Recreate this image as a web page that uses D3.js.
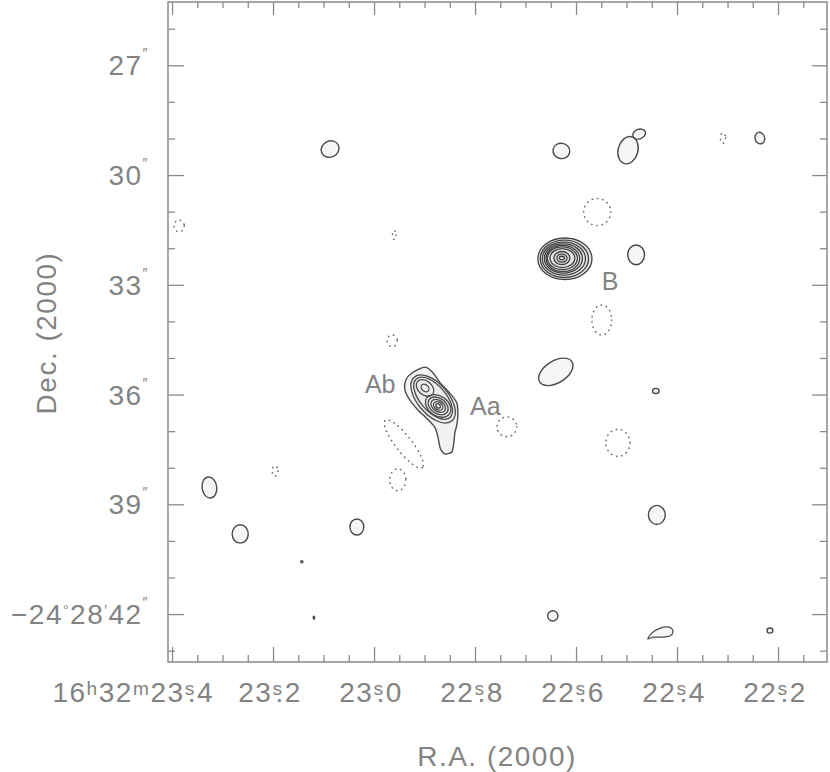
<!DOCTYPE html>
<html>
<head>
<meta charset="utf-8">
<script src="https://cdn.jsdelivr.net/npm/d3@7"></script>
<style>
  body { margin: 0; background: #fff; }
  svg text { font-family: "Liberation Sans", "DejaVu Sans", Arial, sans-serif; fill: #838383; }
</style>
</head>
<body>
<script>
// ---- axis ticks and labels ----
const raMajor = [23.4, 23.2, 23.0, 22.8, 22.6, 22.4, 22.2];
const raLabels = ["16ʰ32ᵐ23ˢ.4", "23ˢ.2", "23ˢ.0", "22ˢ.8", "22ˢ.6", "22ˢ.4", "22ˢ.2"];
const decMajor = [27, 30, 33, 36, 39, 42];
const decLabels = ["27^″", "30^″", "33^″", "36^″", "39^″", "−24^°28^′42^″"];

// ---- single contours: ra (s), dec (″ below -24°28'), a/b semi-axes (″), pa (deg on screen) ----
const solidBlobs = [
  { ra: 23.087, dec: 29.29, a: 0.25, b: 0.22, pa: -25 },
  { ra: 22.629, dec: 29.34, a: 0.23, b: 0.21, pa: 10 },
  { ra: 22.497, dec: 29.32, a: 0.27, b: 0.38, pa: 15 },
  { ra: 22.475, dec: 28.88, a: 0.18, b: 0.13, pa: -20 },
  { ra: 22.236, dec: 28.99, a: 0.13, b: 0.16, pa: -15 },
  { ra: 22.481, dec: 32.18, a: 0.23, b: 0.27, pa: 0 },
  { ra: 22.640, dec: 35.38, a: 0.52, b: 0.30, pa: -32 },
  { ra: 22.442, dec: 35.90, a: 0.09, b: 0.07, pa: 0 },
  { ra: 23.326, dec: 38.54, a: 0.20, b: 0.29, pa: -8 },
  { ra: 23.265, dec: 39.81, a: 0.22, b: 0.25, pa: 0 },
  { ra: 23.034, dec: 39.62, a: 0.19, b: 0.22, pa: 0 },
  { ra: 22.440, dec: 39.29, a: 0.23, b: 0.26, pa: 0 },
  { ra: 23.143, dec: 40.57, a: 0.03, b: 0.03, pa: 0 },
  { ra: 23.119, dec: 42.10, a: 0.02, b: 0.04, pa: 0 },
  { ra: 22.646, dec: 42.05, a: 0.14, b: 0.14, pa: 0 },
  { ra: 22.216, dec: 42.45, a: 0.08, b: 0.07, pa: 0 }
];

// negative contours (dotted)
const dottedBlobs = [
  { ra: 22.309, dec: 28.99, a: 0.07, b: 0.14, pa: 0 },
  { ra: 23.386, dec: 31.39, a: 0.14, b: 0.16, pa: 0 },
  { ra: 22.558, dec: 31.01, a: 0.37, b: 0.37, pa: 0 },
  { ra: 22.960, dec: 31.64, a: 0.05, b: 0.12, pa: 0 },
  { ra: 22.549, dec: 33.96, a: 0.27, b: 0.41, pa: 0 },
  { ra: 22.964, dec: 34.53, a: 0.14, b: 0.16, pa: 0 },
  { ra: 22.737, dec: 36.88, a: 0.27, b: 0.27, pa: 0 },
  { ra: 22.941, dec: 37.35, a: 0.82, b: 0.22, pa: 52 },
  { ra: 22.953, dec: 38.33, a: 0.22, b: 0.30, pa: 0 },
  { ra: 22.517, dec: 37.32, a: 0.33, b: 0.37, pa: 0 },
  { ra: 23.196, dec: 38.09, a: 0.08, b: 0.14, pa: 0 }
];

// source B, nested levels
const sourceB = [
  { ra: 22.622, dec: 32.29, a: 0.74, b: 0.57 },
  { ra: 22.623, dec: 32.29, a: 0.66, b: 0.51 },
  { ra: 22.624, dec: 32.285, a: 0.59, b: 0.45 },
  { ra: 22.625, dec: 32.28, a: 0.52, b: 0.40 },
  { ra: 22.626, dec: 32.28, a: 0.46, b: 0.36 },
  { ra: 22.627, dec: 32.275, a: 0.41, b: 0.31 },
  { ra: 22.627, dec: 32.27, a: 0.34, b: 0.26 },
  { ra: 22.628, dec: 32.27, a: 0.22, b: 0.18 },
  { ra: 22.628, dec: 32.27, a: 0.14, b: 0.11 },
  { ra: 22.628, dec: 32.27, a: 0.07, b: 0.05 }
];

// source A (Aa + Ab), inner levels
const sourceA = [
  { ra: 22.883, dec: 36.12, a: 0.79, b: 0.42, pa: 49 },
  { ra: 22.883, dec: 36.10, a: 0.70, b: 0.35, pa: 49 },
  { ra: 22.899, dec: 35.82, a: 0.27, b: 0.19, pa: 40 },
  { ra: 22.899, dec: 35.82, a: 0.12, b: 0.09, pa: 40 },
  { ra: 22.873, dec: 36.31, a: 0.38, b: 0.27, pa: 35 },
  { ra: 22.873, dec: 36.31, a: 0.30, b: 0.21, pa: 35 },
  { ra: 22.873, dec: 36.31, a: 0.22, b: 0.15, pa: 35 },
  { ra: 22.873, dec: 36.31, a: 0.14, b: 0.10, pa: 35 },
  { ra: 22.873, dec: 36.31, a: 0.07, b: 0.05, pa: 35 }
];

// lowest contour of source A, with its southern tail
const outlineA = [
  [22.925, 35.41], [22.899, 35.25], [22.883, 35.41], [22.869, 35.68], [22.850, 35.96],
  [22.836, 36.23], [22.834, 36.56], [22.836, 36.83], [22.840, 37.05], [22.842, 37.32],
  [22.846, 37.57], [22.860, 37.62], [22.869, 37.46], [22.873, 37.19], [22.879, 36.91],
  [22.893, 36.69], [22.913, 36.42], [22.929, 36.15], [22.939, 35.87], [22.937, 35.60]
];

// small teardrop contour near the bottom
const teardrop = [
  [22.458, 42.68], [22.450, 42.52], [22.438, 42.41], [22.424, 42.35], [22.412, 42.38],
  [22.408, 42.49], [22.414, 42.60], [22.430, 42.63], [22.446, 42.63]
];

const names = [
  { text: "Ab", ra: 23.018, dec: 35.96 },
  { text: "Aa", ra: 22.810, dec: 36.56 },
  { text: "B", ra: 22.549, dec: 33.14 }
];

const W = 830, H = 772;
const svg = d3.select("body").append("svg").attr("width", W).attr("height", H);

const x = d3.scaleLinear().domain([23.408, 22.103]).range([168, 827]);
const y = d3.scaleLinear().domain([25.27, 43.31]).range([2, 662]);
const k = y(1) - y(0); // px per arcsec

const raMinor = d3.range(22.15, 23.41, 0.05).filter(v => !raMajor.some(m => Math.abs(m - v) < 1e-6));
const decMinor = d3.range(26, 44).filter(v => !decMajor.includes(v));

// ---- frame & ticks ----
const axisColor = "#8a8a8a";
function ticks(axis, values, size, tx, ty) {
  const g = svg.append("g").attr("transform", `translate(${tx},${ty})`)
    .call(axis.tickValues(values).tickSize(-size).tickSizeOuter(0).tickFormat(""));
  g.select(".domain").remove();
  g.selectAll("line").attr("stroke", axisColor).attr("stroke-width", 1.3);
}
ticks(d3.axisBottom(x), raMajor, 15, 0, 662);
ticks(d3.axisBottom(x), raMinor, 7, 0, 662);
ticks(d3.axisTop(x), raMajor, 13, 0, 2);
ticks(d3.axisTop(x), raMinor, 6, 0, 2);
ticks(d3.axisLeft(y), decMajor, 16, 168, 0);
ticks(d3.axisLeft(y), decMinor, 7, 168, 0);
ticks(d3.axisRight(y), decMajor, 15, 827, 0);
ticks(d3.axisRight(y), decMinor, 7, 827, 0);

svg.append("rect").attr("x", 168).attr("y", 2).attr("width", 659).attr("height", 660)
  .attr("fill", "none").attr("stroke", axisColor).attr("stroke-width", 1.5);

// ---- tick labels ----
// RA: superscript letters are modifier glyphs, the decimal point is tucked under the "s"
raMajor.forEach((v, i) => {
  const s = raLabels[i];
  const dx = Array.from(s).map(c => (c === "." ? -8 : 0)).join(" ");
  svg.append("text").attr("font-size", 28).attr("letter-spacing", 1.5)
    .attr("y", 702)
    .attr("x", i === 0 ? 214 : x(v) - 3)
    .attr("dx", dx)
    .attr("text-anchor", i === 0 ? "end" : "middle")
    .text(s);
});

// Dec: small raised marks via tspans
const supLift = { "″": 17, "′": 9, "°": 9 };
function richText(sel, str) {
  const parts = str.match(/\^.|[^^]+/g);
  let lift = 0;
  parts.forEach(p => {
    const t = sel.append("tspan");
    if (p[0] === "^") {
      lift = supLift[p[1]] || 11;
      t.attr("font-size", 14).attr("dy", -lift).text(p[1]);
    } else {
      if (lift) t.attr("dy", lift);
      t.text(p);
      lift = 0;
    }
  });
}

decMajor.forEach((v, i) => {
  const t = svg.append("text").attr("font-size", 28).attr("letter-spacing", 1.5)
    .attr("x", 149).attr("y", y(v) + 10).attr("text-anchor", "end");
  richText(t, decLabels[i]);
});

svg.append("text").attr("font-size", 28).attr("letter-spacing", 1.5)
  .attr("x", 497).attr("y", 766).attr("text-anchor", "middle").text("R.A. (2000)");
svg.append("text").attr("font-size", 28).attr("letter-spacing", 1.5)
  .attr("transform", "translate(56,333) rotate(-90)").attr("text-anchor", "middle")
  .text("Dec. (2000)");

// ---- contours ----
const map = svg.append("g");
const rot = d => `rotate(${d.pa || 0},${x(d.ra)},${y(d.dec)})`;

function ellipses(data, cls) {
  return map.selectAll("ellipse." + cls).data(data).join("ellipse")
    .attr("class", cls)
    .attr("cx", d => x(d.ra)).attr("cy", d => y(d.dec))
    .attr("rx", d => d.a * k).attr("ry", d => d.b * k)
    .attr("transform", rot);
}

const closed = d3.line().x(d => x(d[0])).y(d => y(d[1])).curve(d3.curveCardinalClosed.tension(0.2));

map.append("path").attr("d", closed(outlineA))
  .attr("fill", "#f1f1f1").attr("stroke", "#4a4a4a").attr("stroke-width", 1.4);
map.append("path").attr("d", closed(teardrop))
  .attr("fill", "#f6f6f6").attr("stroke", "#4a4a4a").attr("stroke-width", 1.3);

ellipses(solidBlobs, "solid")
  .attr("fill", "#f6f6f6").attr("stroke", "#4a4a4a").attr("stroke-width", 1.4);

ellipses(dottedBlobs, "dotted")
  .attr("fill", "none").attr("stroke", "#6a6a6a").attr("stroke-width", 1.6)
  .attr("stroke-linecap", "round").attr("stroke-dasharray", "0.3,5");

ellipses(sourceA, "srcA")
  .attr("fill", (d, i) => i === 0 ? "#ececec" : "none")
  .attr("stroke", "#4a4a4a").attr("stroke-width", 1.3);

ellipses(sourceB, "srcB")
  .attr("fill", (d, i) => i === 0 ? "#e6e6e6" : (i === 7 ? "#d8d8d8" : "none"))
  .attr("stroke", "#404040").attr("stroke-width", 1.3);

svg.selectAll("text.name").data(names).join("text")
  .attr("class", "name")
  .attr("x", d => x(d.ra)).attr("y", d => y(d.dec))
  .attr("font-size", 25)
  .text(d => d.text);
</script>
</body>
</html>
